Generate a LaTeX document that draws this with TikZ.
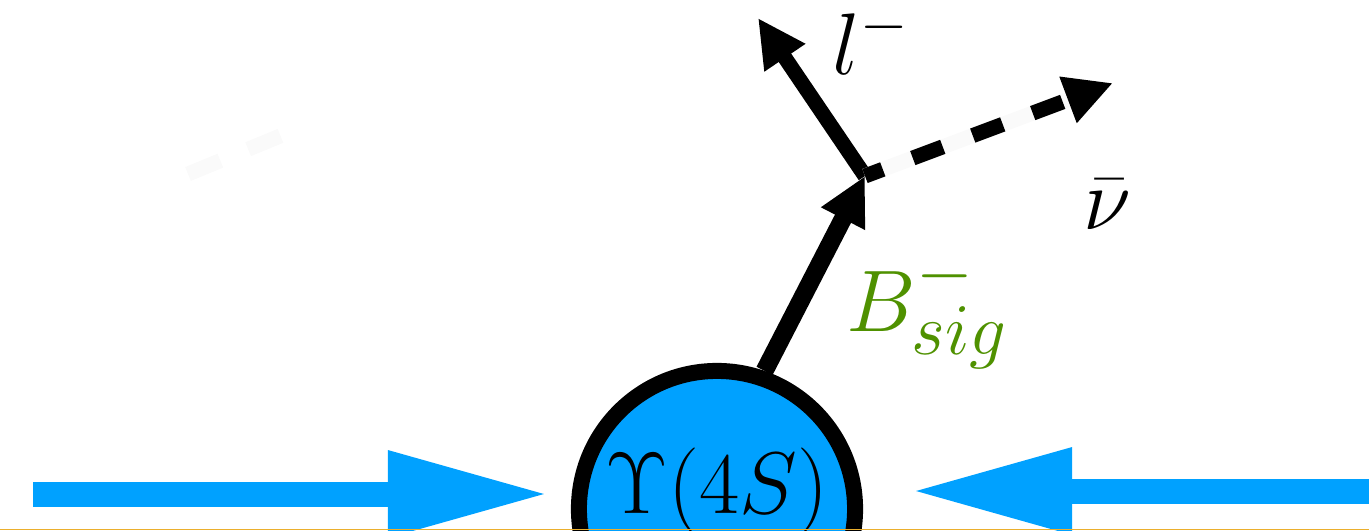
\documentclass[tikz,border=0pt]{standalone}
\usetikzlibrary{arrows.meta,positioning}
\definecolor{beamblue}{RGB}{0,161,255}
\definecolor{siggreen}{RGB}{79,145,0}
\definecolor{framegold}{RGB}{235,175,45}

\begin{document}
\begin{tikzpicture}[
    x=0.01cm, y=-0.01cm,
    resonance/.style={circle, draw, line width=0.16cm, fill=beamblue, minimum size=2.76cm, inner sep=0pt},
    particle/.style={inner sep=0pt, anchor=base west, font=\fontsize{25}{30}\selectfont},
    beam/.style={-{Triangle[length=1.62cm, width=0.8cm]}, line width=0.25cm, beamblue},
    track/.style={-{Triangle[length=0.48cm, width=0.46cm]}, line width=0.15cm},
    missing/.style={track, dash pattern=on 0.32cm off 0.32cm, dash phase=0.13cm},
    ghost/.style={line width=0.15cm, black!2}
]
    \useasboundingbox (0,0) rectangle (1369,530);

    % Resonance
    \node[resonance, label={[yshift=0.17cm, font=\fontsize{24}{29}\selectfont]center:$\Upsilon(4S)$}] (upsilon) at (717,509) {};

    % Beams
    \coordinate (beamL) at (33,494);
    \coordinate (hitL) at (550,494);
    \coordinate (beamR) at (1369,491);
    \coordinate (hitR) at (910,491);
    \draw[beam] (beamL) -- (hitL);
    \draw[beam] (beamR) -- (hitR);

    % Decay vertex and tracks
    \coordinate (vertex) at (865,176);
    \coordinate (lepton) at (758,18);
    \coordinate (neutrino) at (1113,83);
    \draw[track, line width=0.18cm] (upsilon.71) -- (vertex);
    \draw[track] (vertex) -- (lepton);
    \draw[track, black!2] (vertex) -- (neutrino);
    \draw[missing] (vertex) -- (neutrino);

    % Faint tag side
    \coordinate (tagA) at (188,174);
    \coordinate (tagB) at (285,134);
    \draw[ghost, dash pattern=on 0.35cm off 0.3cm] (tagA) -- (tagB);

    % Labels
    \node[particle] (leplabel) at (832,74) {$l^-$};
    \node[particle] (nulabel) at (1083,229) {$\bar{\nu}$};
    \node[particle, siggreen, font=\fontsize{30}{36}\selectfont] (siglabel) at (846,331) {$B^-_{sig}$};

    % Frame edge
    \draw[framegold, line width=0.01cm] (0,529) -- (1369,529);

\end{tikzpicture}
\end{document}
